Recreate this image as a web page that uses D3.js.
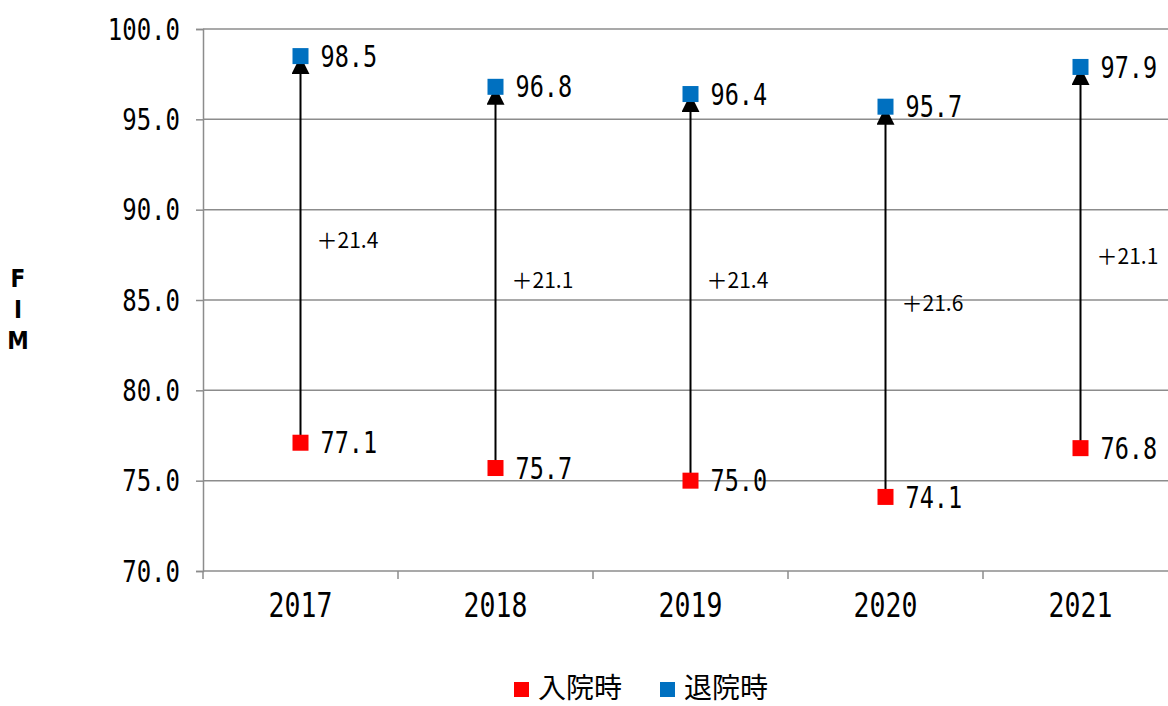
<!DOCTYPE html>
<html>
<head>
<meta charset="utf-8">
<script src="https://cdn.jsdelivr.net/npm/d3@7.9.0/dist/d3.min.js"></script>
<style>
  html, body { margin: 0; padding: 0; background: #fff; }
  svg { display: block; }
</style>
</head>
<body>
<div id="chart"></div>
<script>
const years = ['2017', '2018', '2019', '2020', '2021'];
const admission = [77.1, 75.7, 75.0, 74.1, 76.8];
const discharge = [98.5, 96.8, 96.4, 95.7, 97.9];
const gains = ['＋21.4', '＋21.1', '＋21.4', '＋21.6', '＋21.1'];
// where each gain label sits, in FIM units
const gainLabelAt = [88.3, 86.1, 86.1, 84.8, 87.4];
const yTicks = [70, 75, 80, 85, 90, 95, 100];
const seriesNames = ['入院時', '退院時'];
const seriesColors = ['#ff0000', '#0070c0'];

const width = 1168;
const height = 706;
const plot = { left: 203, right: 1178, top: 29, bottom: 571 };
const mono = 'DejaVu Sans Mono, monospace';
const stretch = 1.25;

const svg = d3.select('#chart')
  .append('svg')
  .attr('width', width)
  .attr('height', height);

const x = d3.scaleBand().domain(years).range([plot.left, plot.right]);
const y = d3.scaleLinear().domain([70, 100]).range([plot.bottom, plot.top]);

// tall narrow digits, like the original Gothic font
function tallText(g, px, py, str, size, anchor) {
  g.append('g')
    .attr('transform', `translate(${px},${py}) scale(1,${stretch})`)
    .append('text')
    .attr('dy', '0.36em')
    .attr('text-anchor', anchor)
    .style('font-family', mono)
    .style('font-size', size + 'px')
    .attr('fill', '#000')
    .text(str);
}

// gridlines
svg.append('g')
  .selectAll('line')
  .data(yTicks.filter((d) => d > 70))
  .join('line')
  .attr('x1', plot.left)
  .attr('x2', plot.right)
  .attr('y1', (d) => y(d))
  .attr('y2', (d) => y(d))
  .attr('stroke', '#8c8c8c')
  .attr('stroke-width', 1.5);

// y axis
const yAxis = svg.append('g')
  .attr('transform', `translate(${plot.left},0)`)
  .call(d3.axisLeft(y).tickValues(yTicks).tickSize(7).tickFormat(''));
yAxis.selectAll('path, line').attr('stroke', '#8c8c8c').attr('stroke-width', 1.5);

const yLabels = svg.append('g');
yTicks.forEach((d) => tallText(yLabels, 180, y(d), d3.format('.1f')(d), 24, 'end'));

// x axis
const xAxis = svg.append('g')
  .attr('transform', `translate(0,${plot.bottom})`)
  .call(d3.axisBottom(x).tickSize(0).tickFormat(''));
xAxis.selectAll('path').attr('stroke', '#8c8c8c').attr('stroke-width', 1.5).attr('d', `M${plot.left},0H${plot.right}`);
xAxis.selectAll('.tick').remove();
xAxis.selectAll('line.edge')
  .data(years)
  .join('line')
  .attr('class', 'edge')
  .attr('x1', (d) => x(d))
  .attr('x2', (d) => x(d))
  .attr('y1', 0)
  .attr('y2', 8)
  .attr('stroke', '#8c8c8c')
  .attr('stroke-width', 1.5);

const xLabels = svg.append('g');
years.forEach((d) => tallText(xLabels, x(d) + x.bandwidth() / 2, 605, d, 26.5, 'middle'));

// arrows
svg.append('defs')
  .append('marker')
  .attr('id', 'head')
  .attr('viewBox', '0 0 18 18')
  .attr('refX', 18)
  .attr('refY', 9)
  .attr('markerWidth', 18)
  .attr('markerHeight', 18)
  .attr('markerUnits', 'userSpaceOnUse')
  .attr('orient', 'auto')
  .append('path')
  .attr('d', 'M0,0L18,9L0,18Z')
  .attr('fill', '#000');

const cx = (i) => x(years[i]) + x.bandwidth() / 2;

svg.append('g')
  .selectAll('line')
  .data(years)
  .join('line')
  .attr('x1', (d, i) => cx(i))
  .attr('x2', (d, i) => cx(i))
  .attr('y1', (d, i) => y(admission[i]))
  .attr('y2', (d, i) => y(discharge[i]))
  .attr('stroke', '#000')
  .attr('stroke-width', 2)
  .attr('marker-end', 'url(#head)');

// markers
const sq = 16;
[admission, discharge].forEach((series, s) => {
  svg.append('g')
    .selectAll('rect')
    .data(series)
    .join('rect')
    .attr('x', (d, i) => cx(i) - sq / 2)
    .attr('y', (d) => y(d) - sq / 2)
    .attr('width', sq)
    .attr('height', sq)
    .attr('fill', seriesColors[s]);
});

// value labels
const valueLabels = svg.append('g');
[admission, discharge].forEach((series) => {
  series.forEach((d, i) => tallText(valueLabels, cx(i) + 20, y(d), d3.format('.1f')(d), 23.5, 'start'));
});

// gain labels
svg.append('g')
  .selectAll('text')
  .data(gains)
  .join('text')
  .attr('x', (d, i) => cx(i) + 16)
  .attr('y', (d, i) => y(gainLabelAt[i]))
  .attr('dy', '0.36em')
  .style('font-family', 'Noto Sans CJK JP, sans-serif')
  .style('font-size', '21px')
  .attr('fill', '#000')
  .text((d) => d);

// y axis title, stacked letters
svg.append('g')
  .selectAll('text')
  .data(['F', 'I', 'M'])
  .join('text')
  .attr('x', 18)
  .attr('y', (d, i) => 278 + i * 31)
  .attr('dy', '0.36em')
  .attr('text-anchor', 'middle')
  .style('font-family', 'DejaVu Sans Condensed, DejaVu Sans, sans-serif')
  .style('font-weight', 'bold')
  .style('font-size', '24px')
  .text((d) => d);

// legend
const legend = svg.append('g');
const legendX = [521, 667];
seriesNames.forEach((name, i) => {
  legend.append('rect')
    .attr('x', legendX[i] - 7)
    .attr('y', 682)
    .attr('width', 15)
    .attr('height', 15)
    .attr('fill', seriesColors[i]);
  legend.append('text')
    .attr('x', legendX[i] + 17)
    .attr('y', 688)
    .attr('dy', '0.36em')
    .style('font-family', 'Noto Sans CJK JP, sans-serif')
    .style('font-size', '28px')
    .attr('fill', '#000')
    .text(name);
});
</script>
</body>
</html>
